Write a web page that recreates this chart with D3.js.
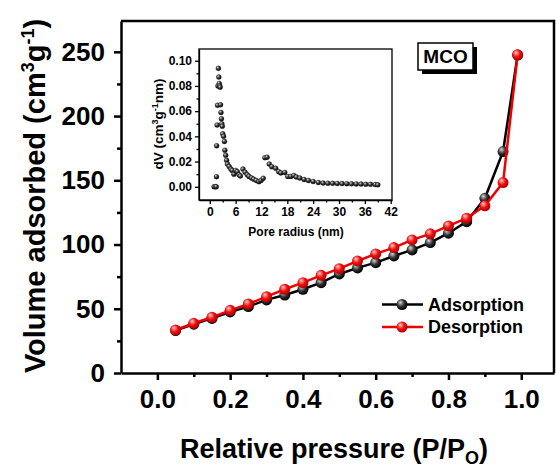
<!DOCTYPE html>
<html>
<head>
<meta charset="utf-8">
<script src="https://cdn.jsdelivr.net/npm/d3@7/dist/d3.min.js"></script>
<style>
  body { margin: 0; background: #fff; }
  text { font-family: "Liberation Sans", Arial, sans-serif; font-weight: bold; fill: #000; }
</style>
</head>
<body>
<svg id="chart" width="556" height="467"></svg>
<script>
// isotherm (main plot)
const pressure = [0.05, 0.10, 0.15, 0.20, 0.25, 0.30, 0.35, 0.40, 0.45, 0.50,
  0.55, 0.60, 0.65, 0.70, 0.75, 0.80, 0.85, 0.90, 0.95, 0.99];
const adsorption = [33, 38, 42.5, 47.5, 51.7, 56.9, 60.7, 65.2, 70.3, 77.1,
  81.8, 85.9, 91.1, 95.8, 101.5, 108.8, 117.8, 136, 172.4, 247.5];
const desorption = [33.5, 38.7, 43.4, 48.8, 53.7, 59.4, 65.2, 70.3, 76.0, 81.2,
  87.2, 92.7, 97.6, 103.6, 108.3, 114.5, 120.5, 130.1, 148.2, 247.7];
const xTicks = [0, 0.2, 0.4, 0.6, 0.8, 1.0];
const xMinor = [0.1, 0.3, 0.5, 0.7, 0.9];
const yTicks = [0, 50, 100, 150, 200, 250];
const yMinor = [25, 75, 125, 175, 225];

// pore size distribution (inset)
const poreRadius = [1.0, 1.3, 1.5, 1.55, 1.6, 1.7, 1.8, 1.9, 2.0, 2.1, 2.2, 2.3, 2.4, 2.5,
  2.6, 2.7, 2.8, 2.9, 3.0, 3.2, 3.4, 3.5, 3.7, 3.9, 4.1, 4.5, 4.9, 5.2, 5.6,
  6.0, 6.4, 6.8, 7.1, 7.7, 8.2, 8.7, 9.1, 9.7, 10.2, 10.8, 11.4, 11.9, 12.4,
  12.8, 13.3, 13.8, 14.4, 15.3, 16.0, 16.5, 17.4, 18.1, 18.8, 19.5, 20.1, 20.9,
  21.9, 22.9, 24.0, 25.2, 26.3, 27.4, 28.5, 29.6, 30.7, 31.8, 32.9, 34.0, 35.1,
  36.2, 37.3, 38.4, 39.0];
const poreVolume = [0.000, 0.000, 0.000, 0.008, 0.0325, 0.049, 0.0646, 0.080, 0.094, 0.087,
  0.082, 0.080, 0.079, 0.065, 0.059, 0.054, 0.050, 0.048, 0.042, 0.040, 0.036, 0.029,
  0.025, 0.021, 0.018, 0.016, 0.014, 0.013, 0.010, 0.013, 0.012, 0.0095, 0.0085, 0.014,
  0.0116, 0.0095, 0.0082, 0.007, 0.006, 0.005, 0.004, 0.005, 0.0067, 0.023, 0.0235,
  0.018, 0.0159, 0.0146, 0.012, 0.011, 0.0114, 0.0082, 0.0082, 0.009, 0.0077, 0.0069,
  0.0058, 0.005, 0.0042, 0.0034, 0.0029, 0.0028, 0.0027, 0.0026, 0.0025, 0.0024,
  0.0023, 0.0022, 0.0021, 0.0020, 0.0019, 0.0017, 0.0015];
const insetXTicks = [0, 6, 12, 18, 24, 30, 36, 42];
const insetXMinor = [3, 9, 15, 21, 27, 33, 39];
const insetYTicks = [0, 0.02, 0.04, 0.06, 0.08, 0.10];
const insetYMinor = [0.01, 0.03, 0.05, 0.07, 0.09];

const svg = d3.select('#chart');
const defs = svg.append('defs');

function sphere(id, light, mid, dark) {
  const g = defs.append('radialGradient').attr('id', id)
      .attr('cx', '40%').attr('cy', '40%').attr('r', '60%')
      .attr('fx', '35%').attr('fy', '30%');
  g.append('stop').attr('offset', '0%').attr('stop-color', light);
  g.append('stop').attr('offset', '55%').attr('stop-color', mid);
  g.append('stop').attr('offset', '100%').attr('stop-color', dark);
}
sphere('ballBlack', '#d8d8d8', '#333', '#000');
sphere('ballRed', '#ffc8c8', '#f01010', '#b00000');

// main plot
const pLeft = 121, pRight = 554, pTop = 21, pBottom = 373;
const x = d3.scaleLinear().domain([-0.1, 1.09]).range([pLeft, pRight]);
const y = d3.scaleLinear().domain([0, 274]).range([pBottom, pTop]);

svg.append('path')
    .attr('d', `M${pLeft},${pTop}H${pRight}V${pBottom}`)
    .attr('fill', 'none').attr('stroke', '#000').attr('stroke-width', 2.5);

const xAxis = svg.append('g').attr('transform', `translate(0,${pBottom})`)
    .call(d3.axisBottom(x).tickValues(xTicks).tickSize(7).tickSizeOuter(0)
        .tickPadding(10).tickFormat(d3.format('.1f')));
svg.append('g').attr('transform', `translate(0,${pBottom})`)
    .call(d3.axisBottom(x).tickValues(xMinor).tickSize(4).tickFormat(''))
    .call((g) => g.select('.domain').remove());
xAxis.selectAll('text').attr('font-size', 26).attr('dy', '0.71em');

const yAxis = svg.append('g').attr('transform', `translate(${pLeft},0)`)
    .call(d3.axisLeft(y).tickValues(yTicks).tickSize(7).tickSizeOuter(0).tickPadding(9));
svg.append('g').attr('transform', `translate(${pLeft},0)`)
    .call(d3.axisLeft(y).tickValues(yMinor).tickSize(4).tickFormat(''))
    .call((g) => g.select('.domain').remove());
yAxis.selectAll('text').attr('font-size', 26);
svg.selectAll('.domain, g.tick line').attr('stroke-width', 2.5);

const line = d3.line().x((d) => x(d[0])).y((d) => y(d[1]));
const series = [
  {name: 'Adsorption', values: adsorption, color: '#000', ball: 'ballBlack'},
  {name: 'Desorption', values: desorption, color: '#ee0000', ball: 'ballRed'},
];
series.forEach((s) => {
  const pts = pressure.map((p, i) => [p, s.values[i]]);
  const g = svg.append('g');
  g.append('path').datum(pts).attr('d', line)
      .attr('fill', 'none').attr('stroke', s.color).attr('stroke-width', 2.5);
  g.selectAll('circle').data(pts).enter().append('circle')
      .attr('cx', (d) => x(d[0])).attr('cy', (d) => y(d[1])).attr('r', 5.5)
      .attr('fill', `url(#${s.ball})`);
});

// axis titles
const yTitle = svg.append('text')
    .attr('transform', 'translate(45,196) rotate(-90)')
    .attr('text-anchor', 'middle').attr('font-size', 29);
yTitle.append('tspan').text('Volume adsorbed (cm');
yTitle.append('tspan').attr('font-size', 18).attr('dy', -11).text('3');
yTitle.append('tspan').attr('dy', 11).text('g');
yTitle.append('tspan').attr('font-size', 18).attr('dy', -11).text('-1');
yTitle.append('tspan').attr('dy', 11).text(')');

const xTitle = svg.append('text')
    .attr('x', 334).attr('y', 458)
    .attr('text-anchor', 'middle').attr('font-size', 27);
xTitle.append('tspan').text('Relative pressure (P/P');
xTitle.append('tspan').attr('font-size', 18).attr('dy', 6).text('O');
xTitle.append('tspan').attr('dy', -6).text(')');

// legend
const legend = svg.append('g');
series.forEach((s, i) => {
  const ly = 304.5 + i * 22.5;
  legend.append('line').attr('x1', 382).attr('x2', 423).attr('y1', ly).attr('y2', ly)
      .attr('stroke', s.color).attr('stroke-width', 2.5);
  legend.append('circle').attr('cx', 402).attr('cy', ly).attr('r', 5.5)
      .attr('fill', `url(#${s.ball})`);
  legend.append('text').attr('x', 428).attr('y', ly).attr('dy', '0.36em')
      .attr('font-size', 18).text(s.name);
});

// MCO label box
svg.append('rect').attr('x', 422).attr('y', 47).attr('width', 55).attr('height', 27).attr('fill', '#000');
svg.append('rect').attr('x', 418).attr('y', 43).attr('width', 55).attr('height', 27)
    .attr('fill', '#fff').attr('stroke', '#000').attr('stroke-width', 1.5);
svg.append('text').attr('x', 445.5).attr('y', 62.5).attr('text-anchor', 'middle')
    .attr('font-size', 19).text('MCO');

// inset
const iL = 199, iR = 392, iT = 49, iB = 200;
const ix = d3.scaleLinear().domain([-2.5, 42.3]).range([iL, iR]);
const iy = d3.scaleLinear().domain([-0.0105, 0.1093]).range([iB, iT]);
const inset = svg.append('g');
inset.append('rect').attr('x', iL).attr('y', iT).attr('width', iR - iL).attr('height', iB - iT)
    .attr('fill', '#fff').attr('stroke', '#000').attr('stroke-width', 1.3);

inset.append('g').attr('transform', `translate(0,${iB})`)
    .call(d3.axisBottom(ix).tickValues(insetXTicks).tickSize(4).tickSizeOuter(0).tickPadding(3));
inset.append('g').attr('transform', `translate(0,${iB})`)
    .call(d3.axisBottom(ix).tickValues(insetXMinor).tickSize(2.5).tickFormat(''))
    .call((g) => g.select('.domain').remove());
inset.append('g').attr('transform', `translate(${iL},0)`)
    .call(d3.axisLeft(iy).tickValues(insetYTicks).tickSize(4).tickSizeOuter(0)
        .tickPadding(3).tickFormat(d3.format('.2f')));
inset.append('g').attr('transform', `translate(${iL},0)`)
    .call(d3.axisLeft(iy).tickValues(insetYMinor).tickSize(2.5).tickFormat(''))
    .call((g) => g.select('.domain').remove());
inset.selectAll('.domain, .tick line').attr('stroke-width', 1.3);
inset.selectAll('text').attr('font-size', 12);

inset.selectAll('circle.pore').data(poreRadius.map((r, i) => [r, poreVolume[i]]))
    .enter().append('circle').attr('class', 'pore')
    .attr('cx', (d) => ix(d[0])).attr('cy', (d) => iy(d[1])).attr('r', 2.5)
    .attr('fill', 'url(#ballBlack)').attr('stroke', '#222').attr('stroke-width', 0.3);

inset.append('text').attr('x', 296).attr('y', 236).attr('text-anchor', 'middle')
    .attr('font-size', 12).text('Pore radius (nm)');
const iyTitle = inset.append('text')
    .attr('transform', 'translate(163,124) rotate(-90)')
    .attr('text-anchor', 'middle').attr('font-size', 13.5);
iyTitle.append('tspan').text('dV (cm');
iyTitle.append('tspan').attr('font-size', 9).attr('dy', -5).text('3');
iyTitle.append('tspan').attr('dy', 5).text('g');
iyTitle.append('tspan').attr('font-size', 9).attr('dy', -5).text('-1');
iyTitle.append('tspan').attr('dy', 5).text('nm)');
</script>
</body>
</html>
